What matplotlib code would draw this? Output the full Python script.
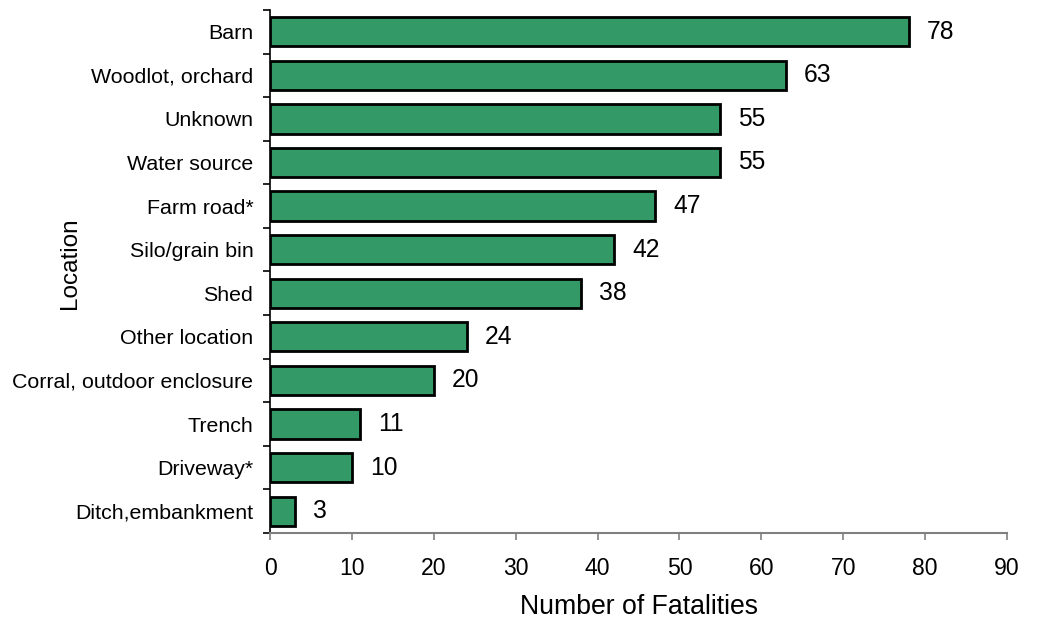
import matplotlib.pyplot as plt
from matplotlib.ticker import MultipleLocator, FixedLocator, NullFormatter

plt.rcParams['font.family'] = ['Liberation Sans', 'DejaVu Sans']

# data (top to bottom as in the picture)
locations = ["Barn", "Woodlot, orchard", "Unknown", "Water source", "Farm road*",
             "Silo/grain bin", "Shed", "Other location", "Corral, outdoor enclosure",
             "Trench", "Driveway*", "Ditch,embankment"]
fatalities = [78, 63, 55, 55, 47, 42, 38, 24, 20, 11, 10, 3]

bar_color = "#339966"
spine_color = "#808080"

fig = plt.figure(figsize=(10.37, 6.21), dpi=100)
ax = fig.add_axes([0.2604, 0.1417, 0.9711 - 0.2604, 0.984 - 0.1417])

n = len(locations)
ypos = list(range(n))[::-1]
ax.barh(ypos, fatalities, height=0.67, color=bar_color, edgecolor="black", linewidth=2)

# value labels right of each bar
for y, v in zip(ypos, fatalities):
    ax.annotate(str(v), (v, y), xytext=(13, 0), textcoords="offset points",
                ha="left", va="center", fontsize=17.7)

ax.set_xlim(0, 90)
ax.set_ylim(-0.5, n - 0.5)
ax.xaxis.set_major_locator(MultipleLocator(10))
ax.set_yticks(ypos)
ax.set_yticklabels(locations, fontsize=15.4)
ax.yaxis.set_minor_locator(FixedLocator([i - 0.5 for i in range(n + 1)]))
ax.yaxis.set_minor_formatter(NullFormatter())
ax.tick_params(axis="y", which="major", length=0, pad=12)
ax.tick_params(axis="y", which="minor", length=5, width=1.2, color="black")
ax.tick_params(axis="x", length=5, width=1.2, color=spine_color, labelsize=16.6, pad=12)

ax.spines["top"].set_visible(False)
ax.spines["right"].set_visible(False)
ax.spines["left"].set_color("black")
ax.spines["left"].set_linewidth(1.2)
ax.spines["bottom"].set_color(spine_color)
ax.spines["bottom"].set_linewidth(1.5)

ax.set_xlabel("Number of Fatalities", fontsize=19.2, labelpad=10)
ax.set_ylabel("Location", fontsize=17.5)
# the label sits in the gap left of the short category names
ax.yaxis.set_label_coords(-0.256, 0.515)

fig.savefig("out.png", dpi=100)
